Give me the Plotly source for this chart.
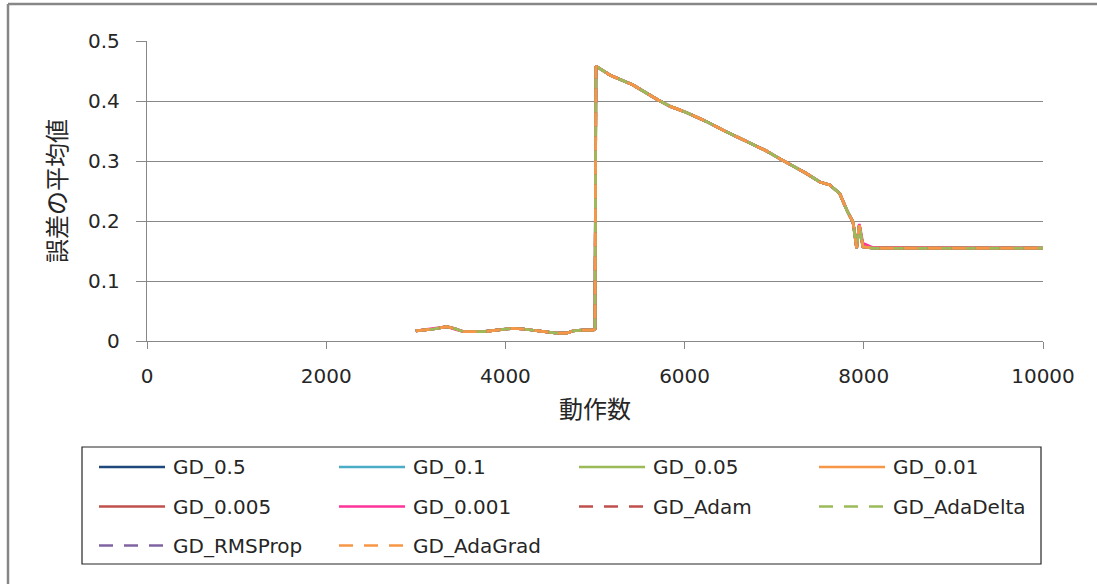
import plotly.graph_objects as go

# ---- data ----
steps = [3000, 3100, 3200, 3345, 3450, 3530, 3650, 3750, 3900, 4085, 4200, 4390,
         4500, 4570, 4685, 4755, 4850, 4980, 5000, 5010, 5170, 5420, 5690, 5840,
         6020, 6240, 6460, 6690, 6910, 7060, 7210, 7350, 7510, 7620, 7730, 7820,
         7880, 7920, 7950, 7990, 8100, 9000, 10000]
err_common = [0.017, 0.018, 0.020, 0.024, 0.020, 0.0155, 0.016, 0.0155, 0.018, 0.021,
              0.020, 0.017, 0.015, 0.013, 0.013, 0.017, 0.018, 0.018, 0.020, 0.458,
              0.443, 0.427, 0.403, 0.391, 0.381, 0.366, 0.349, 0.332, 0.317, 0.304,
              0.292, 0.280, 0.265, 0.260, 0.246, 0.215, 0.198, 0.155, 0.193, 0.157,
              0.155, 0.155, 0.155]
err_gd_0001 = [0.017, 0.019, 0.020, 0.024, 0.019, 0.016, 0.016, 0.0155, 0.018, 0.021,
               0.020, 0.017, 0.015, 0.013, 0.013, 0.017, 0.018, 0.018, 0.020, 0.458,
               0.443, 0.427, 0.403, 0.391, 0.381, 0.366, 0.349, 0.332, 0.317, 0.304,
               0.292, 0.280, 0.265, 0.260, 0.246, 0.215, 0.198, 0.157, 0.195, 0.163,
               0.156, 0.155, 0.155]

series_names = ["GD_0.5", "GD_0.1", "GD_0.05", "GD_0.01", "GD_0.005", "GD_0.001",
                "GD_Adam", "GD_AdaDelta", "GD_RMSProp", "GD_AdaGrad"]
series_colors = ["#1F497D", "#4BACC6", "#9BBB59", "#F79646", "#C0504D", "#FF3399",
                 "#C0504D", "#9BBB59", "#8064A2", "#F79646"]
series_dashed = [False, False, False, False, False, False, True, True, True, True]
# drawing order (bottom -> top), legend keeps the original order
draw_order = [0, 1, 4, 5, 3, 2, 6, 8, 7, 9]

x_ticks = [0, 2000, 4000, 6000, 8000, 10000]
x_tick_text = ["0", "2000", "4000", "6000", "8000", "10000"]
y_ticks = [0, 0.1, 0.2, 0.3, 0.4, 0.5]
y_tick_text = ["0", "0.1", "0.2", "0.3", "0.4", "0.5"]

# ---- layout geometry (pixels) ----
W, H = 1097, 584
PL, PR, PT, PB = 147, 1043, 41, 341
FONT = "DejaVu Sans, Noto Sans CJK JP, sans-serif"
TXT = "#262626"


def px(xp):
    return (xp - PL) / (PR - PL)


def py(yp):
    return (PB - yp) / (PB - PT)


fig = go.Figure()
for i in draw_order:
    name, color, dashed = series_names[i], series_colors[i], series_dashed[i]
    yv = err_gd_0001 if name == "GD_0.001" else err_common
    fig.add_trace(go.Scatter(
        x=steps, y=yv, mode="lines", name=name, showlegend=False,
        line=dict(color=color, width=2.75, dash="14px,10px" if dashed else "solid"),
    ))

shapes = []
annotations = []
# outer chart border (top + left visible in the crop)
shapes.append(dict(type="line", xref="paper", yref="paper",
                   x0=px(8), x1=px(1110), y0=py(4), y1=py(4),
                   line=dict(color="#878787", width=2.5)))
shapes.append(dict(type="line", xref="paper", yref="paper",
                   x0=px(8), x1=px(8), y0=py(4), y1=py(600),
                   line=dict(color="#878787", width=2.5)))
# legend box
shapes.append(dict(type="rect", xref="paper", yref="paper",
                   x0=px(82), x1=px(1041), y0=py(447), y1=py(564),
                   line=dict(color="#262626", width=1.2), fillcolor="rgba(0,0,0,0)"))
row_y = [467, 506.5, 545.5]
for i, (name, color, dashed) in enumerate(zip(series_names, series_colors, series_dashed)):
    r, c = divmod(i, 4)
    x0 = 99 + 240 * c
    yy = row_y[r]
    shapes.append(dict(type="line", xref="paper", yref="paper",
                       x0=px(x0), x1=px(x0 + 66), y0=py(yy), y1=py(yy),
                       line=dict(color=color, width=2.5,
                                 dash="14px,11px" if dashed else "solid")))
    annotations.append(dict(xref="paper", yref="paper", x=px(x0 + 72), y=py(yy),
                            text=name, showarrow=False, xanchor="left", yanchor="middle",
                            font=dict(family=FONT, size=20, color=TXT)))

fig.update_layout(
    width=W, height=H,
    margin=dict(l=PL, r=W - PR, t=PT, b=H - PB),
    paper_bgcolor="white", plot_bgcolor="white",
    showlegend=False,
    shapes=shapes, annotations=annotations,
    font=dict(family=FONT, size=20, color=TXT),
)
fig.update_xaxes(
    range=[0, 10000], tickvals=x_ticks, ticktext=x_tick_text, ticks="outside", ticklen=7,
    tickcolor="#878787",
    showline=True, linecolor="#878787", linewidth=1.3, showgrid=False, zeroline=False,
    tickfont=dict(family=FONT, size=20, color=TXT), ticklabelstandoff=10,
    title=dict(text="動作数", font=dict(family=FONT, size=24, color=TXT), standoff=14),
)
fig.update_yaxes(
    range=[0, 0.5], tickvals=y_ticks, ticktext=y_tick_text, ticks="outside", ticklen=10,
    tickcolor="#878787", showline=True, linecolor="#878787", linewidth=1.3,
    showgrid=True, gridcolor="#878787", gridwidth=1.3, zeroline=False,
    tickfont=dict(family=FONT, size=20, color=TXT), ticklabelstandoff=12,
    title=dict(text="誤差の平均値", font=dict(family=FONT, size=24, color=TXT), standoff=14),
)

fig.write_html("out.html")
